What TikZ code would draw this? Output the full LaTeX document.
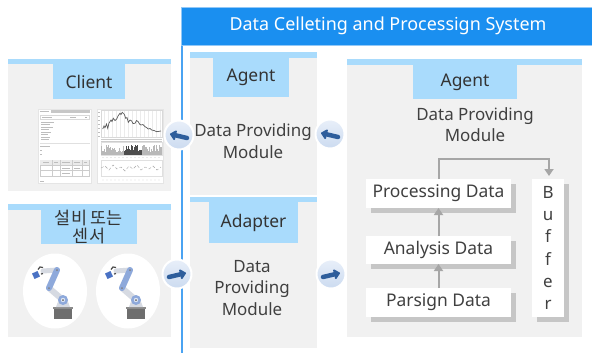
\documentclass[tikz,border=0pt]{standalone}
\usepackage{fontspec}
\setmainfont{Noto Sans}
\newfontfamily\krfont{Noto Sans CJK KR}
\usetikzlibrary{arrows.meta,shadows,calc,shapes.geometric}
\definecolor{panelgray}{HTML}{F1F1F1}
\definecolor{stripeblue}{HTML}{A9DBFC}
\definecolor{headerblue}{HTML}{1A8FF0}
\definecolor{frameblue}{HTML}{4AA3F2}
\definecolor{circtop}{HTML}{E8EFF9}
\definecolor{circbot}{HTML}{CCDBF0}
\definecolor{arrowblue}{HTML}{2E5E9C}
\definecolor{bodytext}{HTML}{404040}
\definecolor{labtext}{HTML}{333333}
\definecolor{shadowgray}{HTML}{C6C6C6}
\definecolor{flowgray}{HTML}{A6A6A6}
\definecolor{robblue}{HTML}{8EA9DB}
\definecolor{robgray}{HTML}{D6DAE2}
\definecolor{robbase}{HTML}{6E6E6E}
\definecolor{robgrip}{HTML}{4A72C4}
\definecolor{shotline}{HTML}{BDBDBD}
\begin{document}
\begin{tikzpicture}[x=1bp,y=-1bp,
  panel/.style={fill=panelgray, inner sep=0, outer sep=0, anchor=north west},
  stripe/.style={fill=stripeblue, inner sep=0, outer sep=0, anchor=north west},
  lab/.style={fill=stripeblue, inner sep=0, outer sep=0, anchor=north, text=labtext, font=\fontsize{17.5}{20}\selectfont},
  body/.style={text=bodytext, font=\fontsize{17}{22}\selectfont, align=center, inner sep=0},
  acirc/.style={circle, draw=white, line width=2bp, top color=circtop, bottom color=circbot, minimum size=29bp, inner sep=0},
  barrow/.style={draw=arrowblue, line width=4.5bp, line cap=round, -{Triangle[length=6.5bp,width=11.5bp,round]}},
  flowbox/.style={fill=white, inner sep=0, outer sep=0, text=bodytext, font=\fontsize{17.5}{20}\selectfont,
    general shadow={fill=shadowgray, shadow xshift=5bp, shadow yshift=-5bp}},
  flow/.style={draw=flowgray, line width=2bp, -{Triangle[length=7bp,width=9bp]}},
  shot/.style={fill=white, draw=black!10, line width=0.4bp, inner sep=0, outer sep=0, anchor=north west},
  roundbg/.style={ellipse, fill=white, inner sep=0, minimum width=64bp, minimum height=75bp},
  robot/.pic={
    % base
    \fill[robbase] (-1,17) rectangle (17,28);
    \fill[robbase!80] (-2,16) rectangle (18,18);
    % shoulder support
    \fill[robgray] (1,16) -- (15,16) -- (12,8) -- (4,8) -- cycle;
    % lower arm
    \draw[robgray, line width=6bp, line cap=round] (8,9) -- (-6,-3);
    % forearm to gripper
    \draw[robgray, line width=5bp, line cap=round] (2,-21) -- (-12,-20);
    % upper arm
    \draw[robblue, line width=6bp, line cap=round] (-6,-3) -- (2,-21);
    \fill[robblue] (8,9) circle (5bp);
    \fill[white!70!robblue] (8,9) circle (2.2bp);
    \fill[black!60] (8,9) circle (1bp);
    \fill[black!50] (-6,-3) circle (1bp);
    \fill[black!50] (2,-21) circle (1bp);
    % gripper
    \draw[black!70, line width=1.2bp] (-12,-23.5) -- (-15,-24) -- (-17,-21.5);
    \draw[black!70, line width=1.2bp] (-12,-17.5) -- (-14,-17);
    \fill[robgrip, rotate around={25:(-19,-16)}] (-22,-19) rectangle (-16,-13);
  }
]
\useasboundingbox (0,0) rectangle (592,353);

% ---------- header and frame ----------
\draw[frameblue, line width=2.5bp] (182,45) -- (182,353);
\node[fill=headerblue, draw=frameblue!60, line width=0.8bp, inner sep=0, outer sep=0, anchor=north west,
      minimum width=412bp, minimum height=38bp, text=white, font=\fontsize{18}{20}\selectfont] (hdr) at (181,7)
      {\hspace*{2bp}Data Celleting and Processign System};

% ---------- Client panel ----------
\node[panel, minimum width=163bp, minimum height=132bp] (clientp) at (8,59) {};
\node[stripe, minimum width=163bp, minimum height=5bp] (clients) at (8,59) {};
\node[lab, minimum width=72bp, minimum height=35bp] (clientl) at (89,64) {Client};

% screenshot A
\node[shot, minimum width=53bp, minimum height=74bp] (shotA) at (38,109) {};
\begin{scope}[shotline, line width=0.5bp]
  \draw (39.5,111) -- (49,111);
  \fill[black!22] (51,110) rectangle (90,112.5);
  \draw[black!15] (40,115) rectangle (89,119);
  \draw (42,117) -- (52,117); \draw (70,117) -- (76,117);
  \fill[black!30] (85,116.5) rectangle (87,118);
  \foreach \yy/\len in {122/13,124.5/9,127/12,129.5/8,132/10,134.5/7,137/9,139.5/8}
    \draw (41,\yy) -- ++(\len,0);
  \draw[black!12] (40,143) -- (90,143);
  \draw (40,146.5) -- (50,146.5);
  \draw (40,150.5) -- (42,150.5);
  \draw (40,154.5) -- (42,154.5);
  \draw[black!20] (40,160) rectangle (89,176);
  \fill[black!8] (40.3,160.3) rectangle (88.7,165);
  \draw[black!20] (40,165) -- (89,165); \draw[black!20] (40,170.5) -- (89,170.5);
  \foreach \xx in {52,60,72,82} \draw[black!20] (\xx,160) -- (\xx,176);
  \draw (43,162.5) -- (49,162.5); \draw (54,162.5) -- (58,162.5); \draw (62,162.5) -- (70,162.5);
  \draw (74,162.5) -- (80,162.5); \draw (84,162.5) -- (87,162.5);
  \draw (62,168) -- (70,168); \draw (74,168) -- (80,168); \draw (62,173) -- (70,173);
  \draw (40,181) -- (44,181);
\end{scope}

% screenshot B
\node[shot, minimum width=66bp, minimum height=74bp] (shotB) at (97,109) {};
\begin{scope}[line width=0.4bp]
  \foreach \xx in {104,108,...,160} \draw[black!8] (\xx,110) -- (\xx,137);
  \draw[black!15] (101,110) rectangle (162,137);
  \foreach \yy in {112,116,...,136} \draw[shotline] (98,\yy) -- (100,\yy);
  \draw[black!65, line width=0.7bp] (102.7,129) -- (104,126) -- (105,127.7) -- (106.5,124) -- (107.7,128.3) -- (109,123)
     -- (111,120) -- (112,121.5) -- (113.3,118.3) -- (115,120.5) -- (116.7,119) -- (118,116) -- (120,113.3) -- (121,114.5)
     -- (122.3,112.3) -- (124.3,114.3) -- (125.7,118.3) -- (127,117.5) -- (128.3,122.3) -- (130,120) -- (131.7,121)
     -- (133,123.5) -- (135,123.3) -- (136.5,120.5) -- (138.3,121.7) -- (139.5,124) -- (141,125) -- (143,124.5)
     -- (145,126.7) -- (146.5,127.5) -- (148.3,129) -- (150,128.5) -- (151.7,130) -- (154,130.5) -- (156.7,131.7) -- (161,131);
  \draw[black!20] (101,139) -- (162,139);
  \draw[black!20] (101,141) -- (162,141);
  \draw[black!12] (101,142) rectangle (162,155);
  \pgfmathsetseed{7}
  \foreach \i in {0,...,60} {
    \pgfmathsetmacro\xx{101.5+1.0*\i}
    \pgfmathsetmacro\hh{2+8*rnd}
    \pgfmathsetmacro\dk{(\xx>124 && \xx<142) ? 70 : 28}
    \draw[black!\dk, line width=0.3bp] (\xx,154.5) -- ++(0,-\hh);
  }
  \foreach \xx in {103,107,...,161} \fill[black!35] (\xx,157.5) circle (0.4bp);
  \draw[black!12] (101,160) rectangle (162,176);
  \draw[black!35, densely dashed] (101,168) -- (105,166) -- (109,170) -- (113,165) -- (117,169) -- (121,167) -- (125,171)
     -- (129,166) -- (133,169) -- (137,165) -- (141,170) -- (145,167) -- (149,169) -- (153,166) -- (157,170) -- (161,167);
  \foreach \xx in {103,107,...,161} \fill[black!35] (\xx,180) circle (0.4bp);
\end{scope}

% ---------- Sensor panel ----------
\node[panel, minimum width=163bp, minimum height=133bp] (sensp) at (8,204) {};
\node[stripe, minimum width=163bp, minimum height=6bp] (senss) at (8,204) {};
\node[lab, minimum width=96bp, minimum height=34bp, font=\krfont\fontsize{17.5}{18}\selectfont, align=center] (sensl) at (89,210) {설비 또는\\센서};
\node[roundbg] (rob1) at (55,291) {};
\node[roundbg] (rob2) at (128,291) {};
\pic at (rob1.center) {robot};
\pic at (rob2.center) {robot};

% ---------- middle column ----------
\node[panel, minimum width=127bp, minimum height=143bp] (agentp) at (190,52) {};
\node[stripe, minimum width=127bp, minimum height=6bp] (agents) at (190,52) {};
\node[lab, minimum width=76bp, minimum height=39bp] (agentl) at (251,58) {Agent};
\node[body] (agentt) at (253,141) {Data Providing\\Module};

\node[panel, minimum width=127bp, minimum height=151bp] (adapp) at (190,197) {};
\node[stripe, minimum width=127bp, minimum height=5bp] (adaps) at (190,197) {};
\node[lab, minimum width=89bp, minimum height=41bp] (adapl) at (253.5,202) {Adapter};
\node[body] (adapt) at (252,288) {Data\\Providing\\Module};

% ---------- right panel ----------
\node[panel, minimum width=235bp, minimum height=278bp] (rightp) at (347,59) {};
\node[stripe, minimum width=235bp, minimum height=6bp] (rights) at (347,59) {};
\node[lab, minimum width=104bp, minimum height=34bp] (rightl) at (465,65) {Agent};
\node[body, font=\fontsize{17}{21}\selectfont] (rightt) at (475,124.5) {Data Providing\\Module};

\node[flowbox, minimum width=145bp, minimum height=29bp] (proc) at (438.5,193.5) {Processing Data};
\node[flowbox, minimum width=145bp, minimum height=28bp] (anal) at (438.5,250) {Analysis Data};
\node[flowbox, minimum width=145bp, minimum height=29bp] (pars) at (438.5,302.5) {Parsign Data};
\node[flowbox, minimum width=32bp, minimum height=138bp, align=center, font=\fontsize{17}{22.4}\selectfont] (buf) at (548,248) {B\\u\\f\\f\\e\\r};

\draw[flow] (pars.north) -- (anal.south);
\draw[flow] (anal.north) -- (proc.south);
\draw[flow] (proc.north) -- ++(0,-20) -| ($(buf.north)+(1,-3)$);

% ---------- arrow circles ----------
\node[acirc] (c1) at (179,135) {};
\node[acirc] (c2) at (330,134) {};
\node[acirc] (c3) at (177,274) {};
\node[acirc] (c4) at (331,274) {};
\draw[barrow] ($(c1)+(8,3)$) -- ($(c1)+(-9,-1)$);
\draw[barrow] ($(c2)+(8,3)$) -- ($(c2)+(-9,-1)$);
\draw[barrow] ($(c3)+(-8,3)$) -- ($(c3)+(9,-1)$);
\draw[barrow] ($(c4)+(-8,3)$) -- ($(c4)+(9,-1)$);
\end{tikzpicture}
\end{document}
